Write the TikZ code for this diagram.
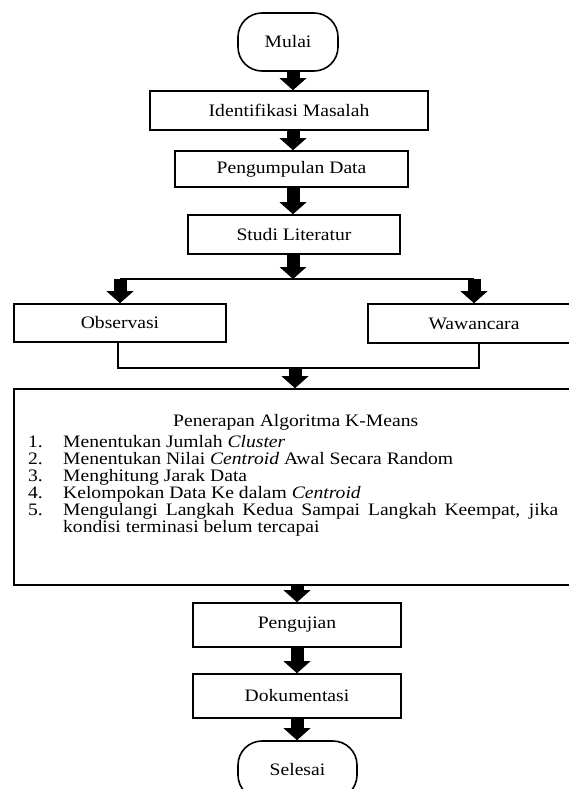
\documentclass[tikz,border=0pt]{standalone}
\usepackage{fontspec}
\setmainfont{Liberation Serif}[FakeStretch=1.12]
\usetikzlibrary{arrows.meta}

\newcommand\tahap[2]{\hangindent=35pt\hangafter=1\noindent\makebox[35pt][l]{#1}#2\par}

\tikzset{
  box/.style={draw, line width=1.6pt, inner sep=0pt, font=\fontsize{17.5}{17.5}\selectfont},
  term/.style={box, rounded corners=24pt},
  blk/.style={line width=13pt, -{Triangle[width=27pt, length=12pt, line width=0pt]}},
  link/.style={line width=1.6pt},
}

\begin{document}
\begin{tikzpicture}[x=1pt, y=-1pt]
    \useasboundingbox (0,0) rectangle (568,789);

    % Start and the first steps
    \node[term, minimum width=100pt, minimum height=58pt] (mulai) at (288,42) {Mulai};
    \node[box, minimum width=278pt, minimum height=39pt] (ident) at (289,110.5) {Identifikasi Masalah};
    \node[box, minimum width=233pt, minimum height=36pt] (kumpul) at (291.5,169) {Pengumpulan Data};
    \node[box, minimum width=212pt, minimum height=39pt] (studi) at (294,234.5) {Studi Literatur};

    % The two branches
    \node[box, minimum width=212pt, minimum height=38pt] (obs) at (120,323) {Observasi};
    \node[box, minimum width=212pt, minimum height=39pt] (waw) at (474,323.5) {Wawancara};

    % K-Means steps
    \node[box, minimum width=566pt, minimum height=196pt] (kmeans) at (297,487) {};
    \node[anchor=north west, inner sep=0pt, text width=530pt, align=justify,
          font=\fontsize{17.5}{17}\selectfont] (langkah) at (28,414.5) {%
        \hyphenpenalty=10000 \exhyphenpenalty=10000
        {\centering\hspace*{5pt}Penerapan Algoritma K-Means\par}
        \vspace{4pt}
        \tahap{1.}{Menentukan Jumlah \textit{Cluster}}
        \tahap{2.}{Menentukan Nilai \textit{Centroid} Awal Secara Random}
        \tahap{3.}{Menghitung Jarak Data}
        \tahap{4.}{Kelompokan Data Ke dalam \textit{Centroid}}
        \tahap{5.}{Mengulangi Langkah Kedua Sampai Langkah Keempat, jika kondisi terminasi belum tercapai}};

    % Last steps
    \node[box, minimum width=208pt, minimum height=44pt] (uji) at (297,625) {Pengujian};
    \node[box, minimum width=208pt, minimum height=44pt] (dok) at (297,696) {Dokumentasi};
    \node[term, minimum width=119pt, minimum height=58pt] (selesai) at (297.5,770) {Selesai};

    % Arrows in the upper part
    \coordinate (atas) at (293,0);
    \draw[blk] (mulai.south -| atas) -- (ident.north -| atas);
    \draw[blk] (ident.south -| atas) -- (kumpul.north -| atas);
    \draw[blk] (kumpul.south -| atas) -- (studi.north -| atas);

    % Split into the two branches
    \coordinate (cabang) at (293,279);
    \draw[blk] (studi.south -| cabang) -- (cabang);
    \draw[link] (cabang -| obs) -- (cabang -| waw);
    \draw[blk] (cabang -| obs) -- (obs.north);
    \draw[blk] (cabang -| waw) -- (waw.north);

    % Join the branches again
    \coordinate (gabung) at (295,368);
    \draw[link] ([xshift=-2pt]obs.south) |- (gabung) -| ([xshift=5pt]waw.south);
    \draw[blk] (gabung) -- (kmeans.north -| gabung);

    % Arrows in the lower part
    \coordinate (bawah) at (297,0);
    \draw[blk] (kmeans.south -| bawah) -- (uji.north -| bawah);
    \draw[blk] (uji.south -| bawah) -- (dok.north -| bawah);
    \draw[blk] (dok.south -| bawah) -- (selesai.north -| bawah);
\end{tikzpicture}
\end{document}
